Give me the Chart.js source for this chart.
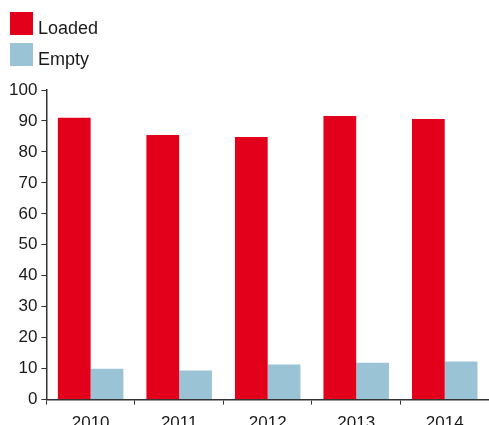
<!DOCTYPE html>
<html>
<head>
<meta charset="utf-8">
<script src="https://cdn.jsdelivr.net/npm/chart.js@4"></script>
<style>
  html, body { margin: 0; padding: 0; background: #fff; overflow: hidden; }
  #wrap { position: relative; width: 489px; height: 425px; overflow: hidden; }
  #box { position: absolute; left: 0; top: 0; width: 489px; height: 449px; }
  #legend { position: absolute; left: 10px; top: 12px; font-family: "Liberation Sans", Arial, sans-serif; font-size: 18px; color: #1a1a1a; }
  .item { display: flex; align-items: center; height: 23px; margin-bottom: 8px; }
  .sw { width: 23px; height: 23px; margin-right: 5px; }
  .tx { position: relative; top: 5px; }
</style>
</head>
<body>
<div id="wrap">
  <div id="box"><canvas id="c"></canvas></div>
  <div id="legend"></div>
</div>
<script>
const categories = ["2010", "2011", "2012", "2013", "2014"];
const loaded = [91.0, 85.5, 84.8, 91.6, 90.6];
const empty = [10.0, 9.4, 11.3, 11.9, 12.3];
const seriesNames = ["Loaded", "Empty"];
const seriesColors = ["#E2001A", "#9AC3D6"];
const yTicks = [0, 10, 20, 30, 40, 50, 60, 70, 80, 90, 100];

const datasets = [loaded, empty].map((d, i) => ({
  label: seriesNames[i],
  data: d,
  backgroundColor: seriesColors[i],
  borderWidth: 0,
  barPercentage: 1.0,
  categoryPercentage: 0.74
}));

const leg = document.getElementById('legend');
datasets.forEach(ds => {
  const it = document.createElement('div');
  it.className = 'item';
  const sw = document.createElement('span');
  sw.className = 'sw';
  sw.style.background = ds.backgroundColor;
  const tx = document.createElement('span');
  tx.className = 'tx';
  tx.textContent = ds.label;
  it.appendChild(sw); it.appendChild(tx);
  leg.appendChild(it);
});

const font = { family: "Liberation Sans, Arial, sans-serif", size: 17 };
new Chart(document.getElementById('c'), {
  type: 'bar',
  data: { labels: categories, datasets },
  options: {
    responsive: true,
    maintainAspectRatio: false,
    animation: false,
    layout: { padding: { top: 90, left: 5, right: 0, bottom: 6 } },
    plugins: { legend: { display: false }, tooltip: { enabled: false } },
    scales: {
      x: {
        grid: { display: true, drawOnChartArea: false, drawTicks: true, tickLength: 5, color: '#333', offset: true },
        border: { display: true, color: '#333', width: 1.5 },
        ticks: { color: '#1a1a1a', font, padding: 9 }
      },
      y: {
        min: 0, max: 100,
        afterBuildTicks: axis => { axis.ticks = yTicks.map(v => ({ value: v })); },
        grid: { display: true, drawOnChartArea: false, drawTicks: true, tickLength: 5, color: '#333' },
        border: { display: true, color: '#333', width: 1.5 },
        ticks: { color: '#1a1a1a', font, padding: 4 }
      }
    }
  }
});
</script>
</body>
</html>
